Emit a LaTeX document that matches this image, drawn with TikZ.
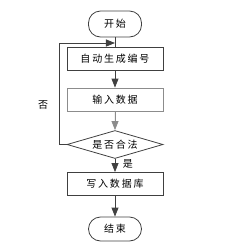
\documentclass[tikz,border=0pt]{standalone}
\usepackage{fontspec}
\setmainfont{Noto Sans CJK SC}
\usetikzlibrary{shapes.geometric,arrows.meta}
\definecolor{ln}{HTML}{404040}
\definecolor{lg}{HTML}{8C8C8C}
\begin{document}
\begin{tikzpicture}[x=1pt,y=-1pt,
  every node/.style={font=\fontsize{10}{12}\selectfont\addfontfeature{LetterSpace=18}, text=black},
  term/.style={draw=ln, line width=0.8pt, rounded corners=12pt, minimum width=53pt, minimum height=26pt, inner sep=0pt},
  proc/.style={draw=ln, line width=0.8pt, minimum width=96pt, minimum height=23pt, inner sep=0pt},
  dec/.style={draw=ln, line width=0.8pt, diamond, aspect=3.4, minimum width=96pt, minimum height=28pt, inner sep=0pt},
  conn/.style={draw=ln, line width=0.8pt, -{Triangle[length=9pt,width=7pt]}},
  lab/.style={font=\fontsize{10}{12}\selectfont}
]
\useasboundingbox (0,0) rectangle (243,250);
\node[term] (start) at (115,24) {开始};
\node[proc] (p1) at (115,59) {自动生成编号};
\node[proc, draw=lg] (p2) at (115,99.5) {输入数据};
\node[dec] (d) at (115,144.5) {是否合法};
\node[proc] (p3) at (115,184) {写入数据库};
\node[term, minimum height=24pt] (end) at (115,229) {结束};
\coordinate (m) at (115,43);
\coordinate (l1) at (59,144.5);
\coordinate (l2) at (59,43);
\draw[draw=ln, line width=0.8pt] (start.south) -- (p1.north);
\draw[conn] (p1) -- (p2);
\draw[conn, draw=lg, fill=lg] (p2) -- (d);
\draw[conn] (d) -- (p3);
\draw[conn] (p3) -- (end);
\draw[conn] (d.west) -- (l1) -- (l2) -- (m);
\node[lab] (no) at (43,105) {否};
\node[lab] (yes) at (128,164) {是};
\end{tikzpicture}
\end{document}
